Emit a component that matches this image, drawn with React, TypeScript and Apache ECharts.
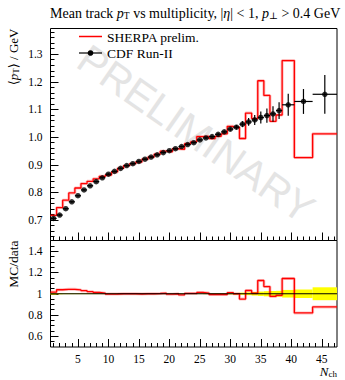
import React, { useEffect, useRef } from "react";
import * as echarts from "echarts";

// ---- data ----
const binEdges = [
  0.5, 1.5, 2.5, 3.5, 4.5, 5.5, 6.5, 7.5, 8.5, 9.5, 10.5, 11.5, 12.5, 13.5,
  14.5, 15.5, 16.5, 17.5, 18.5, 19.5, 20.5, 21.5, 22.5, 23.5, 24.5, 25.5, 26.5,
  27.5, 28.5, 29.5, 30.5, 31.5, 32.5, 33.5, 34.5, 35.5, 36.5, 37.5, 38.5, 40.5,
  43.5, 47.5,
];
const dataMean = [
  0.706, 0.718, 0.741, 0.766, 0.788, 0.809, 0.824, 0.839, 0.853, 0.866,
  0.876, 0.887, 0.897, 0.904, 0.912, 0.92, 0.928, 0.936, 0.944, 0.951,
  0.958, 0.966, 0.973, 0.98, 0.99, 0.997, 1.002, 1.01, 1.019, 1.029,
  1.036, 1.047, 1.055, 1.062, 1.071, 1.078, 1.084, 1.096,
  1.117, 1.129, 1.155,
];
const dataErr = [
  0.006, 0.004, 0.003, 0.003, 0.003, 0.003, 0.003, 0.003, 0.003, 0.003,
  0.003, 0.003, 0.003, 0.003, 0.003, 0.003, 0.003, 0.003, 0.003, 0.003,
  0.003, 0.003, 0.003, 0.003, 0.003, 0.004, 0.004, 0.005, 0.005, 0.006,
  0.008, 0.011, 0.014, 0.018, 0.022, 0.026, 0.028, 0.03,
  0.04, 0.045, 0.07,
];
const sherpaMean = [
  0.717, 0.745, 0.772, 0.798, 0.816, 0.832, 0.84, 0.849, 0.858, 0.863,
  0.874, 0.887, 0.897, 0.904, 0.91, 0.92, 0.928, 0.938, 0.949, 0.947,
  0.958, 0.956, 0.976, 0.983, 1.002, 1.003, 0.995, 1.003, 1.012, 1.039,
  1.036, 0.995, 1.087, 1.067, 1.204, 1.151, 1.057, 1.08,
  1.277, 0.926, 1.012,
];
const xTickLabels = [5, 10, 15, 20, 25, 30, 35, 40, 45];
const yTickLabels = [0.7, 0.8, 0.9, 1.0, 1.1, 1.2, 1.3];
const ratioTickLabels = [0.6, 0.8, 1, 1.2, 1.4];

// ---- layout ----
const L = 50.5;
const R = 337;
const T1 = 28.5;
const B1 = 240.5;
const B2 = 347;
const SERIF = "'Liberation Serif', 'DejaVu Serif', serif";

const xMinor: number[] = [];
for (let i = 1; i <= 47; i++) xMinor.push(i);
const yMinor: number[] = [];
for (let i = 32; i <= 69; i++) yMinor.push(Math.round(i * 2) / 100);
const rMinor: number[] = [];
for (let i = 11; i <= 29; i++) rMinor.push(Math.round(i * 5) / 100);

function steps(vals: number[]) {
  const pts: number[][] = [];
  vals.forEach((v, i) => {
    pts.push([binEdges[i], v]);
    pts.push([binEdges[i + 1], v]);
  });
  return pts;
}

export default function App() {
  const ref = useRef<HTMLDivElement>(null);
  useEffect(() => {
    if (!ref.current) return;
    const chart = echarts.init(ref.current, null, { renderer: "svg" });

    const centers = dataMean.map((_, i) => (binEdges[i] + binEdges[i + 1]) / 2);
    const ratio = sherpaMean.map((v, i) => v / dataMean[i]);
    const errData = dataMean.map((m, i) => [centers[i], binEdges[i], binEdges[i + 1], m, dataErr[i]]);
    const bandData = dataMean.map((m, i) => [binEdges[i], binEdges[i + 1], dataErr[i] / m]);

    const xBase = (grid: number, major: boolean, labels: boolean) => ({
      type: "value",
      gridIndex: grid,
      position: "bottom",
      min: 0.5,
      max: 47.5,
      axisLine: { show: false },
      splitLine: { show: false },
      axisTick: {
        show: true,
        inside: true,
        length: major ? 8 : 4,
        customValues: major ? xTickLabels : xMinor,
        lineStyle: { color: "#000", width: 1 },
      },
      axisLabel: labels
        ? {
            show: true,
            customValues: xTickLabels,
            color: "#000",
            fontFamily: SERIF,
            fontSize: 11.5,
            margin: 6,
          }
        : { show: false },
    });

    const yBase = (
      grid: number,
      major: boolean,
      min: number,
      max: number,
      majorVals: number[],
      minorVals: number[],
      fmt: (v: number) => string
    ) => ({
      type: "value",
      gridIndex: grid,
      position: "left",
      min,
      max,
      axisLine: { show: false },
      splitLine: { show: false },
      axisTick: {
        show: true,
        inside: true,
        length: major ? 8 : 4,
        customValues: major ? majorVals : minorVals,
        lineStyle: { color: "#000", width: 1 },
      },
      axisLabel: major
        ? {
            show: true,
            customValues: majorVals,
            formatter: fmt,
            color: "#000",
            fontFamily: SERIF,
            fontSize: 11.5,
            margin: 8,
          }
        : { show: false },
    });

    const fmtUpper = (v: number) => v.toFixed(1);
    const fmtRatio = (v: number) => (Math.abs(v - 1) < 1e-9 ? "1" : v.toFixed(1));

    const errRender = (params: any, api: any) => {
      const x = api.value(0);
      const lo = api.value(1);
      const hi = api.value(2);
      const y = api.value(3);
      const e = api.value(4);
      const p1 = api.coord([lo, y]);
      const p2 = api.coord([hi, y]);
      const p3 = api.coord([x, y - e]);
      const p4 = api.coord([x, y + e]);
      return {
        type: "group",
        children: [
          {
            type: "line",
            shape: { x1: p1[0], y1: p1[1], x2: p2[0], y2: p2[1] },
            style: { stroke: "#000", lineWidth: 1.2 },
          },
          {
            type: "line",
            shape: { x1: p3[0], y1: p3[1], x2: p4[0], y2: p4[1] },
            style: { stroke: "#000", lineWidth: 1.2 },
          },
        ],
      };
    };

    const bandRender = (params: any, api: any) => {
      const lo = api.value(0);
      const hi = api.value(1);
      const r = api.value(2);
      const a = api.coord([lo, 1 + r]);
      const b = api.coord([hi, 1 - r]);
      return {
        type: "rect",
        shape: { x: a[0], y: a[1], width: b[0] - a[0], height: b[1] - a[1] },
        style: { fill: "#ffff00", stroke: "none" },
      };
    };

    const rich13 = {
      i: { fontStyle: "italic", fontFamily: SERIF, fontSize: 13 },
      s: { fontFamily: SERIF, fontSize: 9, padding: [6, 0, 0, 0] },
    };
    const rich14 = {
      i: { fontStyle: "italic", fontFamily: SERIF, fontSize: 14 },
      s: { fontFamily: SERIF, fontSize: 9.5, padding: [6, 0, 0, 0] },
    };

    const option: any = {
      animation: false,
      backgroundColor: "#fff",
      grid: [
        {
          left: L,
          top: T1,
          width: R - L,
          height: B1 - T1,
          show: true,
          borderColor: "#000",
          borderWidth: 1,
          backgroundColor: "transparent",
        },
        {
          left: L,
          top: B1,
          width: R - L,
          height: B2 - B1,
          show: true,
          borderColor: "#000",
          borderWidth: 1,
          backgroundColor: "transparent",
        },
      ],
      xAxis: [xBase(0, true, false), xBase(0, false, false), xBase(1, true, true), xBase(1, false, false)],
      yAxis: [
        yBase(0, true, 0.626, 1.393, yTickLabels, yMinor, fmtUpper),
        yBase(0, false, 0.626, 1.393, yTickLabels, yMinor, fmtUpper),
        yBase(1, true, 0.5, 1.5, ratioTickLabels, rMinor, fmtRatio),
        yBase(1, false, 0.5, 1.5, ratioTickLabels, rMinor, fmtRatio),
      ],
      series: [
        {
          name: "SHERPA glow",
          type: "line",
          xAxisIndex: 0,
          yAxisIndex: 0,
          data: steps(sherpaMean),
          symbol: "none",
          lineStyle: { color: "rgba(255,0,0,0.25)", width: 3 },
          z: 2,
          silent: true,
        },
        {
          name: "SHERPA prelim.",
          type: "line",
          xAxisIndex: 0,
          yAxisIndex: 0,
          data: steps(sherpaMean),
          symbol: "none",
          lineStyle: { color: "#ff0000", width: 1.3 },
          z: 3,
        },
        {
          name: "CDF err",
          type: "custom",
          xAxisIndex: 0,
          yAxisIndex: 0,
          data: errData,
          renderItem: errRender,
          z: 4,
        },
        {
          name: "CDF Run-II",
          type: "scatter",
          xAxisIndex: 0,
          yAxisIndex: 0,
          data: dataMean.map((m, i) => [centers[i], m]),
          symbol: "circle",
          symbolSize: 5.5,
          itemStyle: { color: "#000" },
          z: 5,
        },
        {
          name: "band",
          type: "custom",
          xAxisIndex: 2,
          yAxisIndex: 2,
          data: bandData,
          renderItem: bandRender,
          z: 1,
        },
        {
          name: "ratio glow",
          type: "line",
          xAxisIndex: 2,
          yAxisIndex: 2,
          data: steps(ratio),
          symbol: "none",
          lineStyle: { color: "rgba(255,0,0,0.25)", width: 3 },
          z: 2,
          silent: true,
        },
        {
          name: "ratio",
          type: "line",
          xAxisIndex: 2,
          yAxisIndex: 2,
          data: steps(ratio),
          symbol: "none",
          lineStyle: { color: "#ff0000", width: 1.3 },
          z: 3,
        },
        {
          name: "unity",
          type: "line",
          xAxisIndex: 2,
          yAxisIndex: 2,
          data: [
            [0.5, 1],
            [47.5, 1],
          ],
          symbol: "none",
          lineStyle: { color: "#000", width: 1.2 },
          z: 4,
        },
      ],
      graphic: [
        {
          type: "text",
          x: 196,
          y: 134,
          rotation: -0.61,
          z: 0,
          silent: true,
          style: {
            text: "PRELIMINARY",
            fontFamily: "'Liberation Sans', 'DejaVu Sans', sans-serif",
            fontSize: 41,
            fill: "#e4e4e4",
            align: "center",
            verticalAlign: "middle",
          },
        },
        {
          type: "text",
          x: 50,
          y: 13,
          style: {
            text: "Mean track {i|p}{s|T} vs multiplicity, |{i|η}| < 1, {i|p}{s|⊥} > 0.4 GeV",
            rich: rich14,
            fontFamily: SERIF,
            fontSize: 14,
            fill: "#000",
            align: "left",
            verticalAlign: "middle",
          },
        },
        {
          type: "text",
          x: 13,
          y: T1,
          rotation: Math.PI / 2,
          style: {
            text: "⟨{i|p}{s|T}⟩ / GeV",
            rich: rich13,
            fontFamily: SERIF,
            fontSize: 13,
            fill: "#000",
            align: "right",
            verticalAlign: "middle",
          },
        },
        {
          type: "text",
          x: 13,
          y: B1,
          rotation: Math.PI / 2,
          style: {
            text: "MC/data",
            fontFamily: SERIF,
            fontSize: 13.5,
            fill: "#000",
            align: "right",
            verticalAlign: "middle",
          },
        },
        {
          type: "text",
          x: 337,
          y: 371,
          style: {
            text: "{i|N}{s|ch}",
            rich: rich13,
            fontFamily: SERIF,
            fontSize: 13,
            fill: "#000",
            align: "right",
            verticalAlign: "middle",
          },
        },
        {
          type: "line",
          shape: { x1: 79, y1: 36.5, x2: 102, y2: 36.5 },
          style: { stroke: "#ff0000", lineWidth: 1.5 },
        },
        {
          type: "text",
          x: 107,
          y: 37,
          style: {
            text: "SHERPA prelim.",
            fontFamily: SERIF,
            fontSize: 13.5,
            fill: "#000",
            align: "left",
            verticalAlign: "middle",
          },
        },
        {
          type: "line",
          shape: { x1: 79, y1: 53, x2: 102, y2: 53 },
          style: { stroke: "#000", lineWidth: 1.2 },
        },
        {
          type: "circle",
          shape: { cx: 90.5, cy: 53, r: 2.8 },
          style: { fill: "#000" },
        },
        {
          type: "text",
          x: 107,
          y: 53.5,
          style: {
            text: "CDF Run-II",
            fontFamily: SERIF,
            fontSize: 13.5,
            fill: "#000",
            align: "left",
            verticalAlign: "middle",
          },
        },
      ],
    };

    chart.setOption(option);
    return () => chart.dispose();
  }, []);

  return (
    <div
      ref={ref}
      style={{ position: "absolute", left: 0, top: 0, width: 345, height: 380, background: "#fff" }}
    />
  );
}
